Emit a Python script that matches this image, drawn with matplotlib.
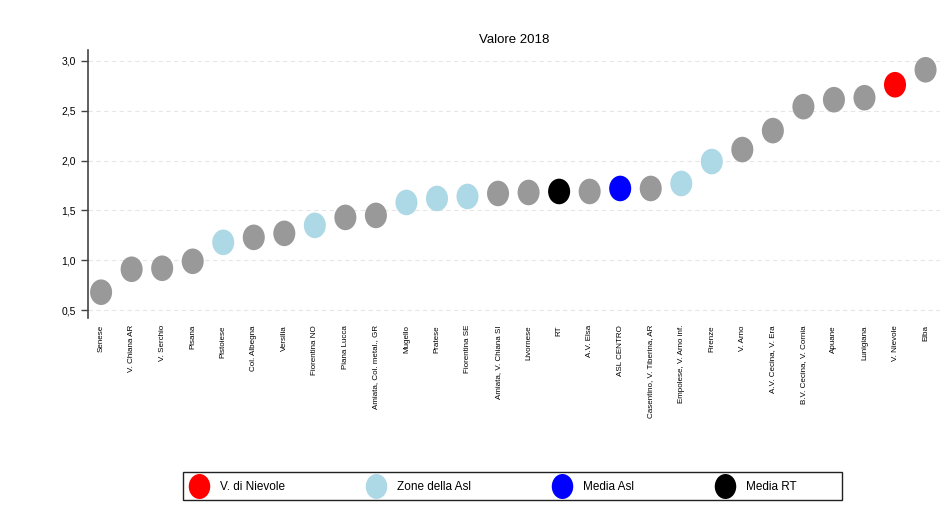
import numpy as np
import matplotlib
matplotlib.use("Agg")
import matplotlib.pyplot as plt
from matplotlib.lines import Line2D
from matplotlib.path import Path
from matplotlib.patches import Rectangle

plt.rcParams['font.family'] = ['Liberation Sans', 'DejaVu Sans']

# zones, sorted by value
zones = ["Senese", "V. Chiana AR", "V. Serchio", "Pisana", "Pistoiese",
         "Col. Albegna", "Versilia", "Fiorentina NO", "Piana Lucca",
         "Amiata, Col. metal., GR", "Mugello", "Pratese", "Fiorentina SE",
         "Amiata, V. Chiana SI", "Livornese", "RT", "A.V. Elsa", "ASL CENTRO",
         "Casentino, V. Tiberina, AR", "Empolese, V. Arno inf.", "Firenze",
         "V. Arno", "A.V. Cecina, V. Era", "B.V. Cecina, V. Cornia", "Apuane",
         "Lunigiana", "V. Nievole", "Elba"]
values = [0.68, 0.91, 0.92, 0.99, 1.18, 1.23, 1.27, 1.35, 1.43, 1.45,
          1.58, 1.62, 1.64, 1.67, 1.68, 1.69, 1.69, 1.72, 1.72, 1.77,
          1.99, 2.11, 2.30, 2.54, 2.61, 2.63, 2.76, 2.91]
groups = ["altro", "altro", "altro", "altro", "asl",
          "altro", "altro", "asl", "altro", "altro",
          "asl", "asl", "asl", "altro", "altro",
          "rt", "altro", "media_asl", "altro", "asl",
          "asl", "altro", "altro", "altro", "altro",
          "altro", "nievole", "altro"]

colori = {"altro": "#999999", "asl": "#add8e6", "media_asl": "#0000ff",
          "rt": "#000000", "nievole": "#ff0000"}

# slightly tall ellipse marker
cerchio = Path.unit_circle()
ellisse = Path(cerchio.vertices * np.array([0.86, 1.0]), cerchio.codes)

fig = plt.figure(figsize=(9.51, 5.19), dpi=100)
ax = fig.add_axes([0.0925, 0.387, 0.8955, 0.517])

x = np.arange(len(zones))
ax.scatter(x, values, s=340, marker=ellisse,
           c=[colori[g] for g in groups], zorder=3, linewidths=0)

ax.set_xlim(-0.43, 27.46)
ax.set_ylim(0.42, 3.11)
ax.set_yticks([0.5, 1.0, 1.5, 2.0, 2.5, 3.0])
ax.set_yticklabels(["0,5", "1,0", "1,5", "2,0", "2,5", "3,0"], fontsize=7.5)
ax.set_xticks(x)
ax.set_xticklabels(zones, rotation=90, fontsize=5.8, va="top")
ax.tick_params(axis="x", length=0, pad=5)
ax.tick_params(axis="y", length=5, color="#444444", width=1)
ax.grid(axis="y", linestyle=(0, (4, 3)), color="#e6e6e6", linewidth=0.8,
        zorder=0)
for side in ["top", "right", "bottom"]:
    ax.spines[side].set_visible(False)
ax.spines["left"].set_color("#444444")
ax.spines["left"].set_linewidth(1.2)
ax.set_title("Valore 2018", fontsize=9.5, pad=5)

etichette = ["V. di Nievole", "Zone della Asl", "Media Asl", "Media RT"]
colori_leg = ["#ff0000", "#add8e6", "#0000ff", "#000000"]
handles = [Line2D([], [], marker=ellisse, linestyle="", markersize=18,
                  markerfacecolor=c, markeredgewidth=0, label=e)
           for e, c in zip(etichette, colori_leg)]
leg = fig.legend(handles=handles, ncol=4, mode="expand",
                 bbox_to_anchor=(0.1924, 0.0366, 0.6525, 0.054),
                 loc="lower left", fontsize=8.5, frameon=False,
                 borderaxespad=0, handletextpad=1.0, borderpad=0.6,
                 handlelength=1.5)

# legend frame, wider than the entries on the right
fig.patches.append(Rectangle((0.1924, 0.0366), 0.6935, 0.054,
                             transform=fig.transFigure, fill=False,
                             edgecolor="#222222", linewidth=1.0))

fig.savefig("out.png", dpi=100)
